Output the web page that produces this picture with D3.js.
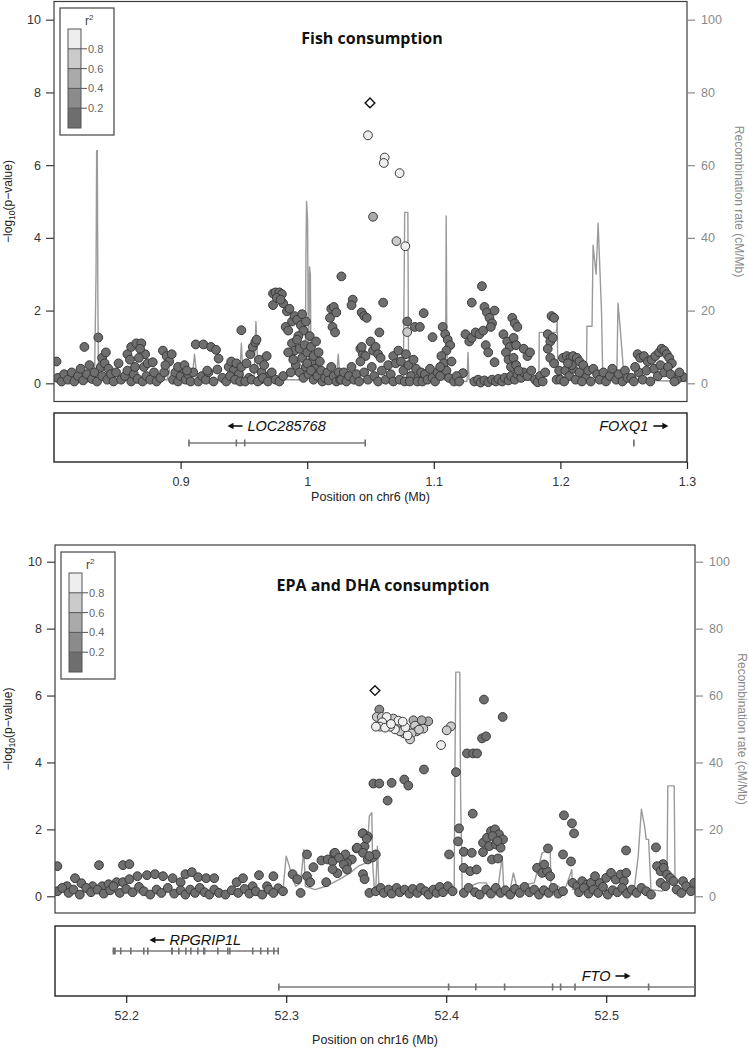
<!DOCTYPE html>
<html><head><meta charset="utf-8">
<script src="https://cdn.jsdelivr.net/npm/d3@7"></script>
<style>body{margin:0;background:#fff}svg text{font-family:"Liberation Sans",Arial,sans-serif}</style>
</head><body><svg id="c" width="749" height="1048"></svg>
<script>
// ---------------- DATA ----------------
const yTicks = [0, 2, 4, 6, 8, 10];
const recombTicks = [0, 20, 40, 60, 80, 100];
const r2Breaks = [0.2, 0.4, 0.6, 0.8];
const r2Colors = ["#6e6e6e", "#8b8b8b", "#aaaaaa", "#cbcbcb", "#eeeeee"];

// Panel 1: Fish consumption, chr6
const fishRange = [0.8, 1.3];
const fishXTicks = [0.9, 1, 1.1, 1.2, 1.3];
const fishLeadSNP = [1.0496, 7.71];
const fishLDSNPs = [ // [position Mb, -log10 p, r2]
  [1.048, 6.82, 0.92], [1.0612, 6.21, 0.9], [1.0605, 6.06, 0.9], [1.073, 5.78, 0.92],
  [1.052, 4.58, 0.5], [1.0705, 3.91, 0.75], [1.0775, 3.77, 0.92], [1.079, 1.41, 0.65]
];
const fishOtherSNPs = [ // [position Mb, -log10 p] r2 < 0.2
  [0.802,0.60],[0.803,0.15],[0.806,0.05],[0.808,0.25],[0.811,0.10],[0.814,0.30],[0.816,0.05],[0.819,0.20],[0.821,0.40],[0.823,0.08],
  [0.824,1.00],[0.826,0.25],[0.828,0.50],[0.830,0.12],[0.832,0.30],[0.834,0.05],[0.835,1.26],[0.837,0.45],[0.838,0.20],
  [0.838,0.70],[0.840,0.55],[0.841,0.85],[0.843,0.40],[0.842,0.10],[0.845,0.25],[0.851,0.55],
  [0.847,0.05],[0.849,0.30],[0.853,0.10],[0.856,0.20],[0.858,0.35],[0.861,0.05],[0.863,0.25],[0.866,0.12],
  [0.858,0.80],[0.861,1.00],[0.865,1.10],[0.869,1.10],[0.872,0.80],[0.867,0.70],[0.864,0.45],[0.871,0.45],[0.874,0.55],[0.860,0.65],[0.868,0.95],[0.878,0.58],
  [0.870,0.05],[0.873,0.20],[0.876,0.10],[0.879,0.30],[0.881,0.05],[0.884,0.15],[0.887,0.30],
  [0.886,0.90],[0.889,0.75],[0.891,0.60],[0.893,0.80],[0.888,0.50],
  [0.894,0.10],[0.896,0.30],[0.898,0.05],[0.900,0.20],[0.902,0.40],[0.904,0.10],[0.906,0.25],[0.908,0.05],[0.910,0.30],
  [0.898,0.45],[0.903,0.50],[0.905,0.35],[0.912,1.07],[0.918,1.07],
  [0.924,1.00],[0.928,0.92],[0.930,0.68],[0.929,0.38],
  [0.914,0.05],[0.917,0.20],[0.920,0.10],[0.922,0.30],[0.926,0.05],[0.933,0.15],[0.936,0.05],[0.921,0.35],
  [0.938,0.45],[0.940,0.60],[0.942,0.35],[0.944,0.55],[0.946,0.25],[0.948,0.45],[0.939,0.20],[0.943,0.10],[0.947,0.05],[0.948,1.46],
  [0.952,0.55],[0.955,0.80],[0.957,1.00],[0.959,1.13],[0.960,1.20],[0.958,0.40],[0.962,0.65],[0.964,0.30],[0.966,0.50],[0.968,0.75],[0.963,0.10],[0.954,0.15],[0.970,0.20],
  [0.951,0.05],[0.956,0.10],[0.961,0.05],[0.965,0.15],[0.969,0.05],[0.972,0.30],[0.975,0.10],[0.978,0.05],[0.981,0.20],
  [0.973,2.47],[0.975,2.50],[0.978,2.50],[0.980,2.45],[0.973,2.15],[0.981,2.20],[0.984,1.98],[0.986,2.05],[0.976,2.35],[0.979,2.30],
  [0.983,1.55],[0.985,1.45],[0.988,1.70],[0.990,1.85],[0.992,1.75],[0.995,1.60],[0.997,1.45],[0.999,1.70],[0.996,1.90],[0.993,1.30],
  [0.988,1.10],[0.990,0.90],[0.992,1.20],[0.994,0.95],[0.996,0.70],[0.998,1.05],[1.000,0.85],[1.002,1.30],[1.004,0.60],[1.006,0.40],
  [0.991,0.50],[0.994,0.30],[0.997,0.15],[1.001,0.25],[1.003,1.00],[1.005,0.75],[1.007,1.15],[0.989,0.65],[0.999,0.45],[0.985,0.85],[0.987,0.30],
  [1.000,0.55],[1.003,0.35],[1.005,0.10],[1.008,0.20],[1.010,0.60],[1.009,0.85],[1.011,0.35],
  [1.018,1.80],[1.020,1.55],[1.022,1.40],[1.019,2.05],[1.021,2.10],[1.023,1.95],
  [1.012,0.05],[1.014,0.15],[1.016,0.30],[1.017,0.08],[1.019,0.45],[1.021,0.20],[1.023,0.05],[1.025,0.30],[1.026,0.10],
  [1.027,2.94],[1.036,2.30],[1.035,2.15],
  [1.027,0.10],[1.029,0.30],[1.031,0.05],[1.033,0.20],[1.035,0.45],[1.037,0.10],[1.039,0.25],[1.041,0.05],
  [1.042,0.95],[1.044,0.80],[1.046,0.75],
  [1.043,1.95],[1.045,1.85],[1.047,1.80],[1.043,1.00],
  [1.050,1.15],[1.052,0.90],[1.054,1.00],[1.056,0.80],[1.058,0.70],[1.057,1.40],[1.060,2.22],
  [1.042,0.60],[1.045,0.30],[1.048,0.10],[1.051,0.45],[1.053,0.20],[1.056,0.05],[1.059,0.35],[1.062,0.10],[1.064,0.50],[1.066,0.25],[1.068,0.05],
  [1.079,1.70],[1.085,1.55],[1.089,1.55],[1.092,1.93],
  [1.068,0.75],[1.070,0.55],[1.072,0.90],[1.074,0.60],[1.076,0.35],[1.078,0.80],[1.080,0.50],[1.082,0.20],[1.084,0.65],[1.086,0.40],[1.088,0.15],
  [1.073,0.10],[1.077,0.05],[1.081,0.05],[1.087,0.05],[1.090,0.30],[1.099,1.27],
  [1.091,0.05],[1.093,0.25],[1.095,0.10],[1.097,0.40],[1.099,0.15],[1.101,0.05],[1.103,0.30],[1.105,0.20],
  [1.107,1.55],[1.109,1.35],[1.111,1.20],[1.113,1.05],[1.110,0.90],
  [1.106,0.75],[1.108,0.55],[1.110,0.35],[1.112,0.15],[1.114,0.60],[1.105,0.45],
  [1.123,0.28],[1.125,1.35],[1.128,1.15],[1.130,1.25],[1.130,2.22],
  [1.133,1.40],[1.136,1.35],[1.139,1.45],[1.138,2.67],
  [1.140,2.10],[1.142,1.95],[1.144,1.80],[1.146,1.65],[1.148,2.00],[1.145,1.55],[1.141,1.05],[1.143,0.85],[1.148,0.58],
  [1.132,0.05],[1.135,0.10],[1.137,0.02],[1.140,0.08],[1.143,0.03],[1.146,0.10],[1.149,0.05],[1.151,0.12],[1.154,0.05],[1.156,0.15],
  [1.159,0.08],[1.161,0.20],[1.164,0.10],[1.166,0.25],[1.169,0.15],[1.171,0.30],[1.174,0.20],[1.177,0.35],[1.180,0.10],
  [1.155,1.35],[1.158,1.15],[1.160,1.00],[1.163,1.25],[1.165,1.05],[1.162,1.80],[1.164,1.65],[1.166,1.55],
  [1.157,0.85],[1.159,0.65],[1.161,0.45],[1.163,0.70],[1.165,0.50],[1.167,0.35],
  [1.171,0.95],[1.174,0.75],[1.176,0.85],[1.182,0.03],
  [1.190,1.35],[1.192,1.15],[1.194,1.25],[1.193,1.85],[1.195,1.80],[1.190,0.95],[1.192,0.70],[1.195,0.55],
  [1.184,0.20],[1.186,0.05],[1.188,0.30],[1.197,0.10],[1.199,0.35],
  [1.202,0.70],[1.205,0.75],[1.208,0.70],[1.210,0.75],[1.213,0.70],[1.215,0.60],[1.204,0.35],[1.207,0.20],[1.210,0.40],[1.212,0.10],
  [1.215,0.30],[1.218,0.50],[1.220,0.15],[1.222,0.35],[1.200,0.10],[1.203,0.05],[1.217,0.05],[1.224,0.05],[1.209,0.50],[1.206,0.55],
  [1.226,0.40],[1.229,0.25],[1.231,0.10],[1.234,0.30],[1.236,0.05],[1.239,0.20],[1.241,0.40],[1.244,0.10],[1.246,0.25],[1.249,0.05],[1.251,0.35],[1.253,0.15],
  [1.261,0.80],[1.263,0.70],[1.266,0.75],[1.269,0.60],[1.272,0.65],[1.275,0.75],[1.278,0.85],[1.280,0.95],[1.282,0.90],[1.284,0.80],[1.286,0.70],[1.288,0.55],
  [1.262,0.30],[1.265,0.10],[1.268,0.35],[1.271,0.05],[1.274,0.40],[1.277,0.20],[1.279,0.50],[1.282,0.30],[1.285,0.45],[1.287,0.25],
  [1.256,0.15],[1.258,0.05],[1.259,0.45],[1.297,0.17],[1.292,0.10],[1.294,0.30],[1.290,0.05],
  [1.116,0.05],[1.118,0.20],[1.120,0.05]
];
const fishRecomb = [ // [position Mb, cM/Mb]
  [0.800,0.5],[0.832,0.5],[0.8332,30],[0.8337,64],[0.8342,64],[0.8347,20],[0.8352,1],[0.8895,1],[0.891,4],[0.8925,1],
  [0.909,1],[0.911,8],[0.913,1],[0.9465,1],[0.948,11],[0.9495,1],[0.958,1],[0.9595,17],[0.961,4],[0.962,1],
  [0.9985,1],[0.999,35],[0.9995,50],[1.0003,45],[1.001,3],[1.0018,32],[1.0025,30],[1.003,3],[1.0035,1],
  [1.023,1],[1.0245,8],[1.026,1],[1.076,1],[1.0765,25],[1.077,47],[1.0795,47],[1.080,10],[1.081,1],
  [1.109,1],[1.1095,20],[1.1098,46],[1.1103,10],[1.111,1],[1.1262,0.5],[1.127,8.5],[1.1278,1],
  [1.183,0.8],[1.1833,14],[1.197,14],[1.1975,17],[1.198,1],
  [1.2205,1],[1.221,15.7],[1.225,15.7],[1.2258,38],[1.2282,30],[1.2298,44],[1.2325,19.5],[1.2335,1],
  [1.2445,1],[1.2455,22],[1.2475,14],[1.2495,5],[1.251,1],[1.300,0.5]
];
const fishGenes = [
  {name: "LOC285768", start: 0.906, end: 1.0457, strand: "-", row: 0, exons: [[0.906,0.9065],[0.9434,0.9438],[0.950,0.9504],[1.0452,1.0457]]},
  {name: "FOXQ1", start: 1.2574, end: 1.2586, strand: "+", row: 0, exons: [[1.2574,1.2586]]}
];

// Panel 2: EPA and DHA consumption, chr16
const epaRange = [52.1555, 52.5555];
const epaXTicks = [52.2, 52.3, 52.4, 52.5];
const epaLeadSNP = [52.3555, 6.15];
const epaLDSNPs = [ // [position Mb, -log10 p, r2]
  [52.3582,5.58,0.35],[52.3566,5.36,0.7],[52.3597,5.36,0.75],[52.3628,5.36,0.8],[52.3670,5.31,0.75],[52.3701,5.25,0.85],[52.3728,5.22,0.9],
  [52.3795,5.26,0.5],[52.3847,5.26,0.55],[52.3888,5.23,0.45],
  [52.3561,5.07,0.95],[52.3586,5.07,0.85],[52.3618,5.04,0.9],[52.3649,5.07,0.85],[52.3680,4.99,0.8],[52.3711,4.93,0.75],[52.3736,4.87,0.7],
  [52.3759,4.81,0.8],[52.3784,4.87,0.7],[52.3815,4.93,0.65],[52.3857,5.01,0.6],[52.3774,4.69,0.75],
  [52.3600,5.20,0.8],[52.3655,5.15,0.9],[52.3690,5.12,0.7],[52.3745,5.05,0.8],[52.3805,5.10,0.6],[52.3830,4.98,0.7],
  [52.4003,4.96,0.7],[52.4030,5.08,0.65],[52.3968,4.52,0.92]
];
const epaOtherSNPs = [ // [position Mb, -log10 p] r2 < 0.2
  [52.157,0.90],[52.163,0.30],[52.168,0.54],[52.172,0.39],[52.179,0.30],[52.185,0.30],[52.189,0.36],[52.194,0.42],[52.198,0.42],[52.202,0.51],[52.207,0.60],
  [52.183,0.93],[52.198,0.93],[52.202,0.96],[52.213,0.63],[52.218,0.66],[52.223,0.60],[52.229,0.54],[52.234,0.42],
  [52.237,0.66],[52.241,0.72],[52.245,0.57],[52.250,0.54],[52.255,0.54],[52.269,0.42],[52.273,0.54],[52.279,0.30],[52.283,0.63],[52.288,0.30],[52.292,0.60],
  [52.295,0.24],[52.304,0.66],[52.307,0.51],[52.313,0.60],[52.315,0.42],[52.313,1.25],[52.317,0.87],
  [52.322,1.07],[52.326,1.10],[52.329,1.04],[52.330,1.28],[52.332,0.69],[52.325,0.42],[52.329,0.81],
  [52.337,1.25],[52.341,1.10],[52.338,0.99],[52.344,1.43],[52.348,1.88],[52.351,1.79],[52.349,1.49],[52.351,1.10],[52.348,0.66],[52.349,0.51],
  [52.354,1.16],[52.356,1.25],
  [52.157,0.15],[52.160,0.25],[52.164,0.10],[52.167,0.20],[52.171,0.05],[52.175,0.25],[52.178,0.12],[52.182,0.20],[52.186,0.08],[52.190,0.18],
  [52.192,0.30],[52.196,0.10],[52.200,0.22],[52.204,0.12],[52.208,0.28],[52.211,0.15],[52.215,0.05],[52.219,0.20],[52.222,0.10],[52.226,0.25],
  [52.230,0.08],[52.234,0.18],[52.237,0.05],[52.240,0.20],[52.243,0.10],[52.246,0.25],[52.249,0.12],[52.252,0.05],[52.255,0.20],[52.258,0.10],
  [52.262,0.05],[52.266,0.18],[52.270,0.10],[52.274,0.22],[52.277,0.08],[52.281,0.15],[52.285,0.05],[52.289,0.20],[52.292,0.10],[52.298,0.15],
  [52.309,0.10],[52.352,0.10],
  [52.4236,5.88],[52.4353,5.36],[52.4224,4.72],[52.4249,4.78],[52.4130,4.27],[52.4168,4.27],[52.4193,4.27],
  [52.3861,3.79],[52.4061,3.71],[52.3545,3.37],[52.3582,3.37],[52.3659,3.39],[52.3738,3.49],[52.3763,3.31],[52.3634,2.86],[52.4166,2.47],
  [52.3443,1.45],[52.3480,1.30],[52.3520,1.20],[52.3478,1.88],[52.3503,1.72],
  [52.3305,1.30],[52.3330,1.15],[52.3360,0.95],[52.3380,0.80],
  [52.356,0.15],[52.359,0.25],[52.361,0.10],[52.364,0.20],[52.366,0.08],[52.369,0.25],[52.371,0.12],[52.374,0.20],[52.377,0.08],[52.379,0.22],
  [52.382,0.10],[52.384,0.25],[52.387,0.15],[52.389,0.05],[52.392,0.20],[52.394,0.10],[52.396,0.28],[52.398,0.12],
  [52.4736,2.42],[52.4786,2.18],[52.4799,1.88],[52.5124,1.37],[52.5311,1.46],[52.5355,0.96],
  [52.4080,2.03],[52.4074,1.64],[52.4018,1.25],[52.411,1.33],[52.416,1.30],[52.423,1.32],[52.411,0.85],[52.415,0.75],[52.419,0.80],
  [52.4230,1.60],[52.4255,1.75],[52.4280,1.95],[52.4305,2.00],[52.4330,1.85],[52.4355,1.70],[52.4270,1.50],[52.4310,1.55],[52.4340,1.45],[52.4290,1.80],[52.4320,1.65],
  [52.4286,1.10],[52.4324,1.13],[52.4636,1.43],[52.4568,0.85],[52.4600,0.70],[52.4630,0.75],[52.4650,0.60],[52.4612,0.95],
  [52.4730,1.25],[52.4780,1.04],[52.4790,0.40],[52.4820,0.30],[52.4850,0.45],[52.4880,0.35],[52.4905,0.40],
  [52.4930,0.60],[52.4960,0.40],[52.5000,0.55],[52.5030,0.70],[52.5060,0.50],[52.5090,0.65],[52.5110,0.45],[52.5125,0.70],
  [52.5318,0.90],[52.5340,0.75],[52.5360,0.85],[52.5380,0.65],[52.5400,0.55],[52.5420,0.45],[52.5340,0.40],[52.5370,0.30],[52.548,0.45],
  [52.401,0.30],[52.404,0.15],[52.411,0.10],[52.414,0.25],[52.418,0.12],[52.421,0.05],
  [52.425,0.20],[52.428,0.08],[52.431,0.25],[52.434,0.10],[52.437,0.18],[52.440,0.05],[52.443,0.22],[52.446,0.10],[52.449,0.28],[52.452,0.12],
  [52.455,0.20],[52.458,0.05],[52.461,0.18],[52.464,0.10],[52.467,0.25],[52.470,0.08],[52.473,0.15],
  [52.483,0.12],[52.486,0.25],[52.489,0.08],[52.492,0.20],[52.495,0.10],[52.498,0.28],[52.501,0.05],[52.504,0.18],[52.507,0.12],[52.510,0.25],
  [52.513,0.08],[52.516,0.20],[52.519,0.10],[52.522,0.25],[52.525,0.15],[52.528,0.05],
  [52.544,0.20],[52.547,0.10],[52.550,0.30],[52.553,0.15],[52.555,0.40]
];
const epaRecomb = [ // [position Mb, cM/Mb]
  [52.1555,1.2],[52.20,1.3],[52.21,1.0],[52.23,1.5],[52.26,1.2],[52.29,1.5],[52.298,2],[52.300,12],[52.302,9],[52.304,5],[52.306,3],
  [52.309,4],[52.311,14],[52.312,3],[52.318,2],[52.325,3],[52.333,5],[52.340,7],[52.345,9],[52.350,10],[52.352,24],[52.3535,25],
  [52.354,10],[52.355,3],[52.356,2],[52.357,15],[52.358,2],[52.360,1.5],[52.38,2],[52.40,2.5],[52.405,3],[52.4055,40],[52.406,67],
  [52.4085,67],[52.409,30],[52.410,2],[52.415,3],[52.420,4],[52.425,4],[52.428,1],[52.432,1],[52.435,12],[52.436,2],[52.440,2],
  [52.442,7],[52.444,3],[52.455,4],[52.46,13],[52.465,14],[52.4655,3],[52.470,3],[52.472,2],[52.475,3],[52.4785,8],[52.479,2],
  [52.482,2],[52.50,2],[52.5175,2],[52.52,12],[52.522,26],[52.524,21],[52.525,17],[52.5265,17],[52.528,2],[52.535,1.5],
  [52.538,5],[52.5385,33],[52.5425,33],[52.543,5],[52.545,2],[52.5555,1]
];
const epaGenes = [
  {name: "RPGRIP1L", start: 52.1915, end: 52.2949, strand: "-", row: 0,
   exons: [[52.1915,52.1935],[52.1961,52.1965],[52.2024,52.2028],[52.2105,52.2109],[52.2130,52.2134],[52.2280,52.2292],[52.2324,52.2328],
           [52.2368,52.2372],[52.2399,52.2403],[52.2443,52.2447],[52.2480,52.2495],[52.2568,52.2572],[52.2630,52.2634],[52.2643,52.2647],
           [52.2786,52.2790],[52.2836,52.2840],[52.2880,52.2884],[52.2918,52.2922],[52.2945,52.2949]]},
  {name: "FTO", start: 52.2949, end: 52.705, strand: "+", row: 1,
   exons: [[52.2949,52.2953],[52.4010,52.4014],[52.4180,52.4186],[52.4360,52.4364],[52.4660,52.4664],[52.4710,52.4714],[52.4800,52.4804],[52.5260,52.5264]]}
];

// ---------------- DRAWING ----------------
const svg = d3.select("#c");
const r2Color = d3.scaleThreshold().domain(r2Breaks).range(r2Colors);
const FONT = '"Liberation Sans",Arial,sans-serif';

function drawPanel(cfg) {
  const L = cfg.layout;
  const g = svg.append("g");
  const x = d3.scaleLinear().domain(cfg.range).range([L.left, L.right]);
  const y = d3.scaleLinear().domain([-0.5, 10.5]).range([L.bottom, L.top]);
  const yr = d3.scaleLinear().domain([-5, 105]).range([L.bottom, L.top]);

  const clipId = "clip" + cfg.id;
  svg.append("clipPath").attr("id", clipId).append("rect")
    .attr("x", L.left).attr("y", L.top).attr("width", L.right - L.left).attr("height", L.bottom - L.top);
  const plot = g.append("g").attr("clip-path", `url(#${clipId})`);

  // recombination rate
  plot.append("path").datum(cfg.recomb)
    .attr("d", d3.line().x(d => x(d[0])).y(d => yr(d[1])))
    .attr("fill", "none").attr("stroke", "#9a9a9a").attr("stroke-width", 1.4).attr("stroke-linejoin", "round");

  // other SNPs
  plot.append("g").selectAll("circle").data(cfg.other).join("circle")
    .attr("cx", d => x(d[0])).attr("cy", d => y(d[1])).attr("r", 4.4)
    .attr("fill", r2Colors[0]).attr("stroke", "#3a3a3a").attr("stroke-width", 1);
  // LD SNPs
  plot.append("g").selectAll("circle").data(cfg.ld.slice().sort((a, b) => a[2] - b[2])).join("circle")
    .attr("cx", d => x(d[0])).attr("cy", d => y(d[1])).attr("r", 4.4)
    .attr("fill", d => r2Color(d[2])).attr("stroke", "#3a3a3a").attr("stroke-width", 1);
  // lead SNP
  plot.append("path").attr("d", d3.symbol(d3.symbolDiamond2, 60)())
    .attr("transform", `translate(${x(cfg.lead[0])},${y(cfg.lead[1])})`)
    .attr("fill", "#fff").attr("stroke", "#111").attr("stroke-width", 1.4);

  // frame
  g.append("rect").attr("x", L.left).attr("y", L.top).attr("width", L.right - L.left).attr("height", L.bottom - L.top)
    .attr("fill", "none").attr("stroke", "#3c3c3c").attr("stroke-width", 1.2);

  // left axis
  const ax = g.append("g").attr("transform", `translate(${L.left},0)`)
    .call(d3.axisLeft(y).tickValues(yTicks).tickSize(8).tickPadding(5));
  ax.select(".domain").remove();
  ax.selectAll("line").attr("stroke", "#3c3c3c").attr("stroke-width", 1.2);
  ax.selectAll("text").attr("font-size", 12.5).attr("fill", "#333").style("font-family", FONT);
  // right axis
  const ar = g.append("g").attr("transform", `translate(${L.right},0)`)
    .call(d3.axisRight(yr).tickValues(recombTicks).tickSize(8).tickPadding(6));
  ar.select(".domain").remove();
  ar.selectAll("line").attr("stroke", "#8a8a8a").attr("stroke-width", 1.2);
  ar.selectAll("text").attr("font-size", 12.5).attr("fill", "#8a8a8a").style("font-family", FONT);

  // axis titles
  const midY = (L.top + L.bottom) / 2;
  const yt = g.append("text").attr("transform", `translate(${L.yTitleX},${midY}) rotate(-90)`)
    .attr("text-anchor", "middle").attr("font-size", 12).attr("fill", "#222");
  yt.append("tspan").text("\u2212log");
  yt.append("tspan").attr("font-size", 8.5).attr("dy", 3).text("10");
  yt.append("tspan").attr("dy", -3).text("(p\u2212value)");
  g.append("text").attr("transform", `translate(${L.rTitleX},${midY}) rotate(90)`)
    .attr("text-anchor", "middle").attr("font-size", 12).attr("fill", "#8a8a8a").text("Recombination rate (cM/Mb)");

  // title
  g.append("text").attr("x", L.titleX).attr("y", L.titleY).attr("text-anchor", "middle")
    .attr("font-size", 16).attr("font-weight", "bold").attr("fill", "#111")
    .style("font-family", '"Open Sans","Liberation Sans",sans-serif').text(cfg.title);

  // legend
  const lg = g.append("g");
  lg.append("rect").attr("x", L.legX).attr("y", L.legY).attr("width", 54).attr("height", 127)
    .attr("fill", "#fff").attr("stroke", "#444").attr("stroke-width", 1.2);
  const lb = d3.scaleLinear().domain([0, 1]).range([L.legY + 120, L.legY + 21]);
  const bins = [0].concat(r2Breaks).concat([1]);
  lg.selectAll("rect.seg").data(d3.range(5)).join("rect").attr("class", "seg")
    .attr("x", L.legX + 8).attr("width", 13)
    .attr("y", i => lb(bins[i + 1])).attr("height", i => lb(bins[i]) - lb(bins[i + 1]))
    .attr("fill", i => r2Colors[i]);
  lg.append("rect").attr("x", L.legX + 8).attr("y", lb(1)).attr("width", 13).attr("height", lb(0) - lb(1))
    .attr("fill", "none").attr("stroke", "#555").attr("stroke-width", 1);
  lg.selectAll("line.tk").data(r2Breaks).join("line").attr("class", "tk")
    .attr("x1", L.legX + 8).attr("x2", L.legX + 27).attr("y1", d => lb(d)).attr("y2", d => lb(d))
    .attr("stroke", "#555").attr("stroke-width", 1);
  lg.selectAll("text.tl").data(r2Breaks).join("text").attr("class", "tl")
    .attr("x", L.legX + 28).attr("y", d => lb(d) + 4).attr("font-size", 11).attr("fill", "#666").text(d => d.toFixed(1));
  const rt = lg.append("text").attr("x", L.legX + 25).attr("y", L.legY + 17).attr("font-size", 12).attr("fill", "#444");
  rt.append("tspan").text("r");
  rt.append("tspan").attr("font-size", 8).attr("dy", -5).text("2");

  // gene panel
  const G = cfg.geneBox;
  g.append("rect").attr("x", L.left).attr("y", G.top).attr("width", L.right - L.left).attr("height", G.bottom - G.top)
    .attr("fill", "none").attr("stroke", "#222").attr("stroke-width", 1.4);
  const gclip = "gclip" + cfg.id;
  svg.append("clipPath").attr("id", gclip).append("rect")
    .attr("x", L.left).attr("y", G.top).attr("width", L.right - L.left).attr("height", G.bottom - G.top);
  const gg = g.append("g").attr("clip-path", `url(#${gclip})`);
  const arrowLen = 15, gap = 5;
  cfg.genes.forEach(gene => {
    const ly = G.lineY[gene.row];
    gg.append("line").attr("x1", x(gene.start)).attr("x2", x(gene.end)).attr("y1", ly).attr("y2", ly)
      .attr("stroke", "#7a7a7a").attr("stroke-width", 1.5);
    gg.selectAll(null).data(gene.exons).join("rect")
      .attr("x", d => x(d[0])).attr("width", d => Math.max(1.6, x(d[1]) - x(d[0])))
      .attr("y", ly - 3.5).attr("height", 7).attr("fill", "#707070");
    const mid = x((gene.start + gene.end) / 2);
    const ty = G.labelY[gene.row];
    const t = gg.append("text").attr("y", ty).attr("text-anchor", "start")
      .attr("font-size", 14.5).attr("font-style", "italic").attr("fill", "#111").text(gene.name);
    const tw = t.node().getComputedTextLength();
    const total = tw + gap + arrowLen;
    const start = mid - total / 2;
    const ay = ty - 5;
    let ax0, ax1;
    if (gene.strand === "-") {
      ax0 = start + arrowLen; ax1 = start; t.attr("x", start + arrowLen + gap);
    } else {
      t.attr("x", start); ax0 = start + tw + gap; ax1 = start + total;
    }
    const dir = Math.sign(ax1 - ax0);
    gg.append("line").attr("x1", ax0).attr("x2", ax1 - dir * 4).attr("y1", ay).attr("y2", ay)
      .attr("stroke", "#111").attr("stroke-width", 1.6);
    gg.append("path").attr("d", `M${ax1},${ay} L${ax1 - dir * 6},${ay - 3.2} L${ax1 - dir * 6},${ay + 3.2} Z`).attr("fill", "#111");
  });

  // x axis
  const xa = g.append("g").attr("transform", `translate(0,${G.bottom})`)
    .call(d3.axisBottom(x).tickValues(cfg.xTicks).tickSize(7).tickPadding(8).tickFormat(d3.format("~g")));
  xa.select(".domain").remove();
  xa.selectAll("line").attr("stroke", "#222").attr("stroke-width", 1.2);
  xa.selectAll("text").attr("font-size", 12.5).attr("fill", "#333").style("font-family", FONT);
  g.append("text").attr("x", (L.left + L.right) / 2).attr("y", G.xTitleY).attr("text-anchor", "middle")
    .attr("font-size", 12.5).attr("fill", "#222").text(cfg.xTitle);
}

drawPanel({
  id: 1, title: "Fish consumption", xTitle: "Position on chr6 (Mb)",
  range: fishRange, xTicks: fishXTicks, lead: fishLeadSNP, ld: fishLDSNPs, other: fishOtherSNPs,
  recomb: fishRecomb, genes: fishGenes,
  layout: {left: 54, right: 687, top: 1.5, bottom: 401.5, yTitleX: 12, rTitleX: 735, titleX: 372, titleY: 44, legX: 60, legY: 8},
  geneBox: {top: 413, bottom: 462, lineY: [443], labelY: [431], xTitleY: 501}
});
drawPanel({
  id: 2, title: "EPA and DHA consumption", xTitle: "Position on chr16 (Mb)",
  range: epaRange, xTicks: epaXTicks, lead: epaLeadSNP, ld: epaLDSNPs, other: epaOtherSNPs,
  recomb: epaRecomb, genes: epaGenes,
  layout: {left: 55, right: 695, top: 545, bottom: 913, yTitleX: 12, rTitleX: 738, titleX: 383, titleY: 591, legX: 61, legY: 552},
  geneBox: {top: 926, bottom: 996, lineY: [951, 987], labelY: [945, 981], xTitleY: 1044}
});
</script></body></html>
